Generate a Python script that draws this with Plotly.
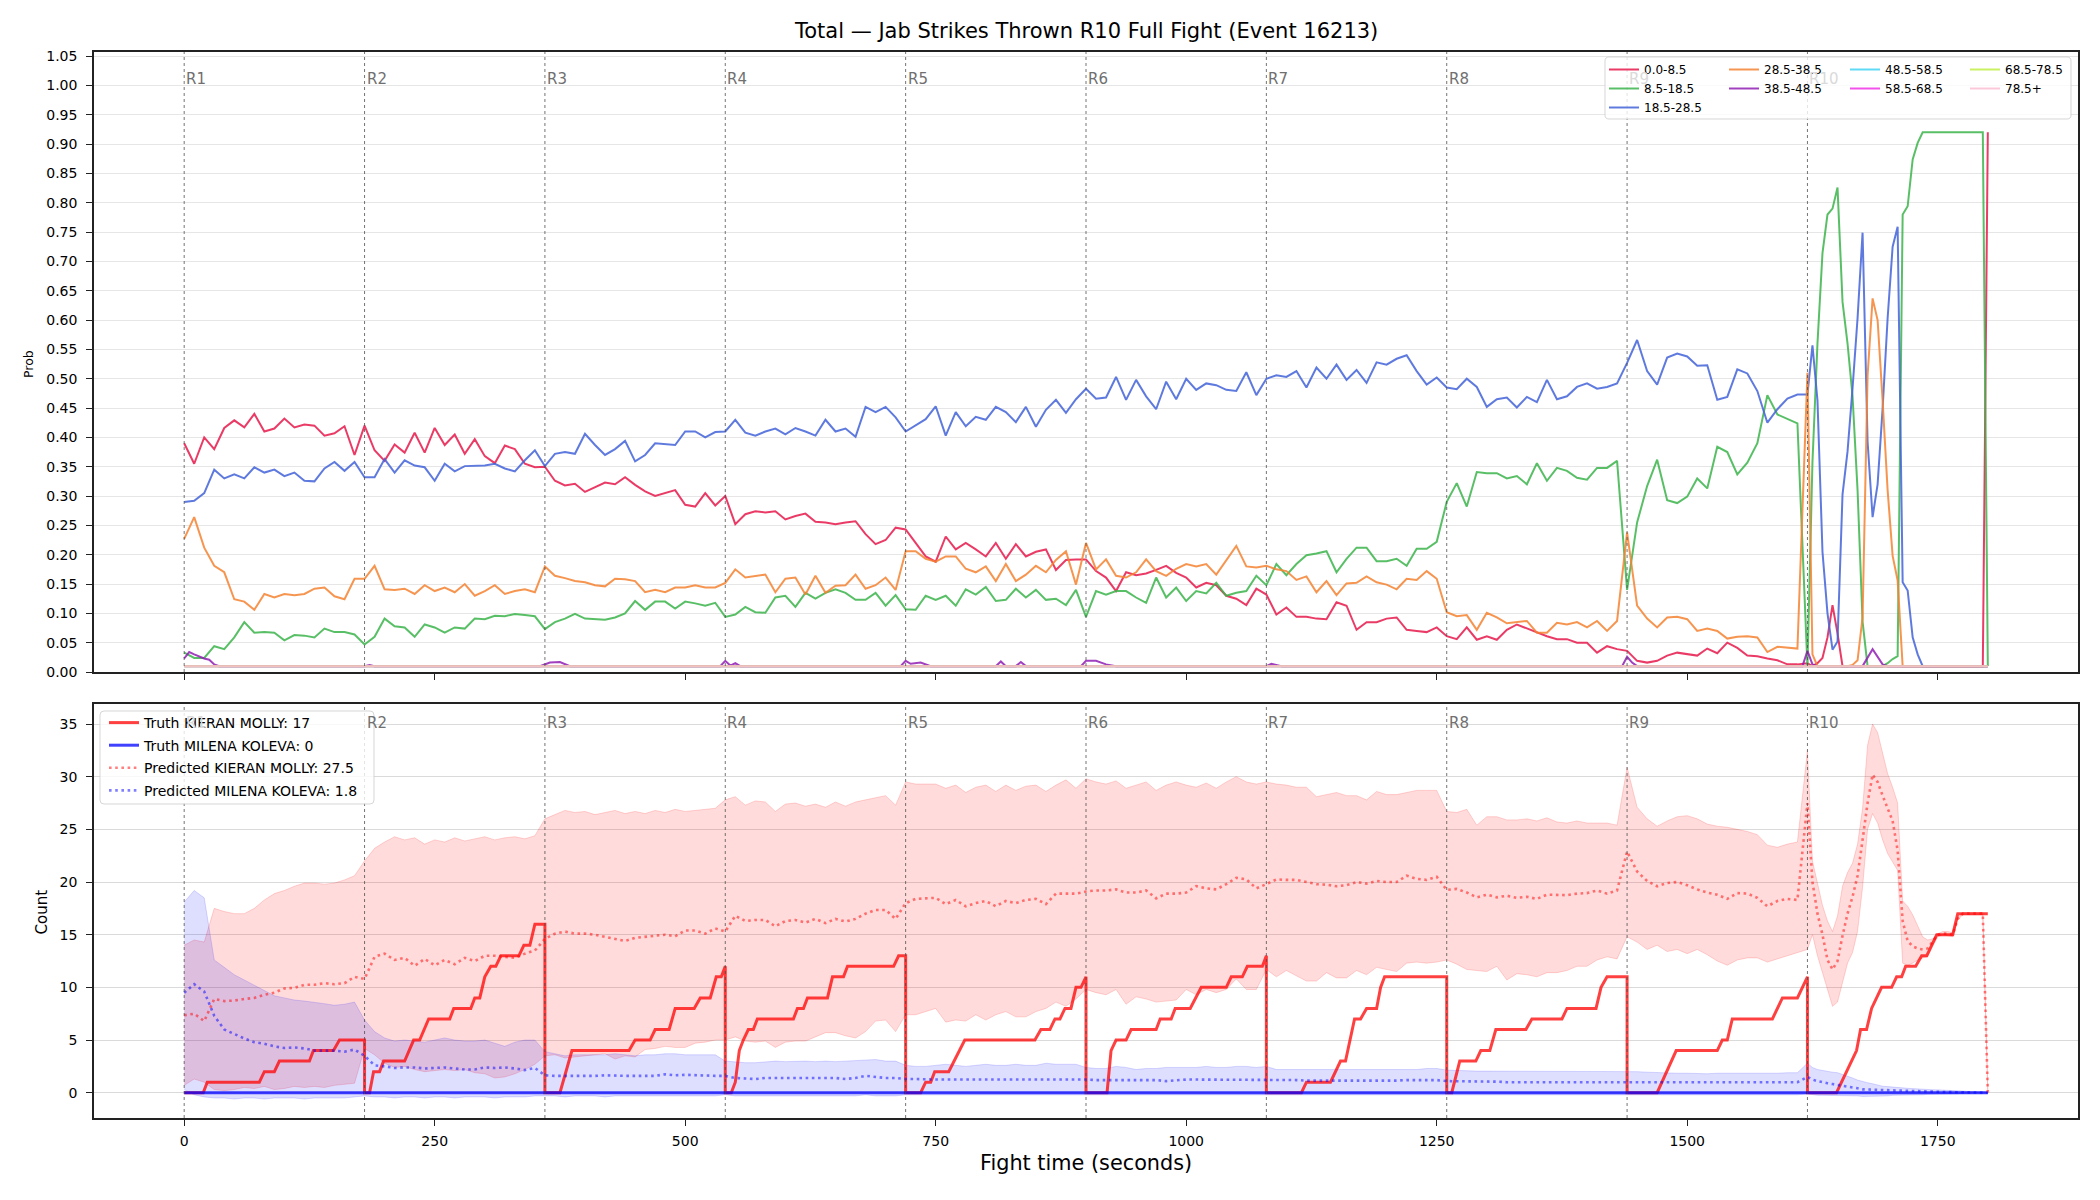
import plotly.graph_objects as go

FONT = "DejaVu Sans"

# ---------------------------------------------------------------- data
# sample times (s): every 10 s in rounds 1-9, every 5 s in round 10
times = list(range(0, 1620, 10)) + list(range(1620, 1805, 5))

round_starts = [0, 180, 360, 540, 720, 900, 1080, 1260, 1440, 1620]
round_names = ["R1", "R2", "R3", "R4", "R5", "R6", "R7", "R8", "R9", "R10"]
x_ticks = [0, 250, 500, 750, 1000, 1250, 1500, 1750]

bin_names = ["0.0-8.5", "8.5-18.5", "18.5-28.5", "28.5-38.5", "38.5-48.5",
             "48.5-58.5", "58.5-68.5", "68.5-78.5", "78.5+"]

prob_0_8 = [
    [.39, .355, .40, .38, .416, .429, .417, .44, .41, .415, .432, .417, .422, .42, .403, .407, .419, .37],
    [.42, .378, .36, .388, .374, .408, .374, .416, .387, .405, .372, .397, .368, .356, .386, .38, .355, .349],
    [.35, .326, .318, .321, .307, .315, .323, .32, .332, .319, .308, .30, .305, .31, .285, .282, .305, .284],
    [.30, .252, .269, .274, .272, .274, .26, .266, .27, .256, .255, .252, .255, .257, .235, .218, .225, .246],
    [.243, .22, .197, .188, .231, .209, .22, .209, .197, .22, .193, .218, .197, .205, .209, .174, .191, .192],
    [.192, .172, .161, .138, .17, .165, .168, .174, .181, .169, .161, .144, .152, .148, .13, .125, .114, .142],
    [.132, .098, .11, .094, .094, .091, .09, .119, .113, .072, .085, .085, .091, .093, .072, .07, .068, .076],
    [.061, .056, .076, .055, .061, .055, .072, .081, .074, .067, .061, .056, .056, .05, .05, .033, .044, .039],
    [.036, .019, .016, .019, .028, .033, .03, .028, .04, .032, .05, .041, .028, .027, .023, .02, .013, .013],
    [.015, .01, .015, .024, .059, .114, .066, .01,
     .01, .01, .01, .01, .01, .01, .01, .01, .01, .01, .01, .01, .01, .01,
     .01, .01, .01, .01, .01, .01, .01, .01, .01, .01, .01, .01, .01, .01, .92],
]
prob_8_18 = [
    [.033, .024, .024, .044, .039, .059, .085, .067, .068, .067, .054, .063, .062, .059, .074, .068, .068, .064],
    [.047, .06, .091, .078, .076, .06, .081, .076, .067, .076, .074, .091, .09, .096, .095, .099, .097, .095],
    [.073, .085, .091, .099, .091, .09, .089, .093, .10, .121, .106, .12, .12, .108, .12, .117, .113, .118],
    [.094, .098, .111, .102, .101, .127, .13, .111, .135, .125, .135, .141, .135, .123, .123, .135, .113, .131],
    [.107, .106, .13, .123, .13, .113, .141, .132, .145, .121, .123, .142, .127, .14, .123, .125, .114, .14],
    [.094, .138, .132, .138, .138, .127, .118, .161, .127, .144, .121, .138, .134, .152, .13, .135, .138, .164],
    [.148, .184, .165, .184, .199, .202, .206, .17, .193, .212, .212, .189, .189, .193, .181, .21, .21, .222],
    [.29, .322, .282, .341, .339, .339, .33, .334, .32, .356, .326, .348, .343, .331, .328, .348, .348, .36],
    [.14, .255, .317, .362, .293, .288, .299, .33, .313, .384, .375, .337, .357, .39, .472, .439, .432, .424],
    [.01, .358, .56, .714, .78, .79, .826, .631, .56, .47, .31, .086, .01, .01, .01, .01, .015, .022, .027,
     .78, .794, .874, .902, .92,
     .92, .92, .92, .92, .92, .92, .92, .92, .92, .92, .92, .92, .01],
]
prob_18_28 = [
    [.29, .292, .305, .345, .33, .337, .33, .349, .34, .345, .334, .34, .326, .325, .347, .358, .343, .358],
    [.332, .332, .363, .34, .361, .352, .349, .326, .355, .342, .351, .351, .352, .355, .347, .342, .361, .378],
    [.351, .372, .375, .372, .406, .387, .37, .38, .394, .359, .37, .39, .389, .387, .41, .41, .40, .409],
    [.41, .43, .408, .403, .41, .415, .405, .416, .41, .403, .43, .41, .415, .401, .452, .443, .452, .434],
    [.41, .42, .431, .453, .403, .443, .419, .435, .43, .452, .443, .426, .452, .418, .447, .464, .442, .465],
    [.483, .466, .468, .503, .464, .498, .47, .448, .495, .465, .50, .481, .492, .489, .481, .479, .511, .472],
    [.50, .506, .503, .513, .485, .519, .50, .524, .498, .515, .493, .528, .524, .534, .54, .513, .49, .502],
    [.485, .482, .50, .486, .452, .465, .468, .451, .469, .46, .498, .465, .47, .486, .492, .483, .486, .492],
    [.527, .566, .513, .49, .536, .543, .538, .522, .523, .464, .469, .516, .509, .479, .425, .448, .466, .473],
    [.473, .557, .463, .205, .10, .038, .052, .303, .376, .484, .603, .749, .393, .264, .32, .449, .603, .725,
     .759, .153, .139, .059, .03, .01,
     .01, .01, .01, .01, .01, .01, .01, .01, .01, .01, .01, .01, .01],
]
prob_28_38 = [
    [.227, .264, .212, .181, .17, .124, .12, .106, .133, .127, .133, .131, .133, .142, .144, .129, .124, .159],
    [.159, .181, .141, .14, .142, .133, .148, .138, .144, .136, .15, .13, .138, .148, .133, .138, .141, .136],
    [.18, .164, .16, .155, .153, .148, .146, .159, .158, .155, .136, .14, .136, .144, .144, .148, .144, .144],
    [.152, .175, .161, .164, .166, .136, .159, .161, .132, .164, .135, .147, .148, .166, .142, .148, .161, .14],
    [.206, .206, .193, .188, .197, .197, .176, .17, .18, .155, .184, .155, .166, .181, .17, .191, .206, .149],
    [.22, .175, .192, .164, .161, .17, .192, .172, .164, .176, .184, .18, .184, .166, .191, .215, .18, .178],
    [.181, .175, .172, .157, .163, .136, .155, .131, .151, .152, .163, .153, .149, .141, .159, .157, .172, .159],
    [.102, .095, .097, .072, .101, .093, .083, .085, .087, .067, .067, .084, .081, .085, .076, .087, .07, .087],
    [.238, .113, .091, .076, .093, .094, .09, .07, .074, .07, .057, .06, .061, .059, .034, .043, .041, .04],
    [.51, .03, .01, .01, .01, .01, .01, .01, .01, .012, .02, .093, .505, .637, .60, .463, .31, .198, .156, .01,
     .01, .01, .01, .01, .01, .01, .01, .01, .01, .01, .01, .01, .01, .01, .01, .01, .01],
]
# 38.5-48.5 stays near the floor; its own breakpoints
prob_38_48_t = [0, 5, 10, 15, 20, 25, 30, 35, 180, 185, 190, 355, 360, 365, 375, 385,
                535, 540, 545, 550, 555, 715, 720, 725, 735, 745, 810, 815, 820, 830, 835, 840,
                895, 900, 910, 920, 930, 1080, 1085, 1095, 1435, 1440, 1445, 1450,
                1615, 1620, 1625, 1630, 1675, 1685, 1695, 1700, 1800]
prob_38_48 = [.023, .034, .03, .026, .023, .021, .013, .01, .01, .012, .01, .01, .013, .016, .017, .01,
              .01, .019, .011, .015, .01, .01, .019, .014, .016, .01, .01, .018, .01, .01, .017, .01,
              .01, .019, .019, .013, .01, .01, .014, .01, .01, .026, .016, .01,
              .01, .036, .013, .01, .01, .039, .013, .01, .01]
# upper bins are flat at the floor for the whole fight
floor_t = [0, 1800]
prob_48_58 = [0.01, 0.01]
prob_58_68 = [0.01, 0.01]
prob_68_78 = [0.01, 0.01]
prob_78_up = [0.01, 0.01]

# ---- cumulative counts
truth_kieran_t = [
    [0, 19, 23, 75, 80, 90, 95, 125, 129, 149, 155, 180],
    [180, 185, 189, 195, 199, 220, 229, 235, 244, 265, 269, 286, 290, 295, 300, 306, 311, 316, 334, 339, 345, 350, 360],
    [360, 375, 387, 444, 450, 465, 470, 484, 490, 509, 515, 525, 531, 536, 540],
    [540, 546, 550, 554, 558, 563, 568, 572, 608, 612, 618, 622, 642, 647, 658, 662, 708, 713, 720],
    [720, 735, 740, 745, 749, 763, 779, 849, 855, 864, 869, 874, 879, 885, 890, 895, 900],
    [900, 921, 925, 930, 940, 945, 970, 974, 985, 989, 1004, 1015, 1040, 1045, 1056, 1061, 1076, 1080],
    [1080, 1115, 1120, 1144, 1154, 1159, 1168, 1174, 1180, 1190, 1194, 1198, 1260],
    [1260, 1265, 1273, 1289, 1294, 1303, 1309, 1339, 1345, 1375, 1380, 1409, 1414, 1420, 1440],
    [1440, 1470, 1489, 1530, 1535, 1540, 1545, 1585, 1595, 1610, 1620],
    [1620, 1649, 1669, 1673, 1679, 1684, 1694, 1704, 1709, 1714, 1718, 1728, 1734, 1739, 1749, 1765, 1770, 1800],
]
truth_kieran = [
    [0, 0, 1, 1, 2, 2, 3, 3, 4, 4, 5, 5],
    [0, 0, 2, 2, 3, 3, 5, 5, 7, 7, 8, 8, 9, 9, 11, 12, 12, 13, 13, 14, 14, 16, 16],
    [0, 0, 4, 4, 5, 5, 6, 6, 8, 8, 9, 9, 11, 11, 12],
    [0, 0, 1, 4, 5, 6, 6, 7, 7, 8, 8, 9, 9, 11, 11, 12, 12, 13, 13],
    [0, 0, 1, 1, 2, 2, 5, 5, 6, 6, 7, 7, 8, 8, 10, 10, 11],
    [0, 0, 4, 5, 5, 6, 6, 7, 7, 8, 8, 10, 10, 11, 11, 12, 12, 13],
    [0, 0, 1, 1, 3, 3, 7, 7, 8, 8, 10, 11, 11],
    [0, 0, 3, 3, 4, 4, 6, 6, 7, 7, 8, 8, 10, 11, 11],
    [0, 0, 4, 4, 5, 5, 7, 7, 9, 9, 11],
    [0, 0, 4, 6, 6, 8, 10, 10, 11, 11, 12, 12, 13, 13, 15, 15, 17, 17],
]
truth_milena_t = [0, 1800]
truth_milena = [0, 0]

pred_kieran = [
    [7.35, 7.5, 6.8, 8.9, 8.7, 8.75, 8.9, 9.0, 9.3, 9.5, 9.9, 9.95, 10.25, 10.25, 10.4, 10.3, 10.4, 11.0],
    [10.8, 12.9, 13.2, 12.6, 12.8, 12.05, 12.7, 12.1, 12.6, 12.2, 12.8, 12.5, 13.0, 13.0, 12.9, 12.8, 13.2, 13.5],
    [14.6, 15.1, 15.3, 15.1, 15.1, 15.0, 14.8, 14.6, 14.4, 14.7, 14.8, 14.9, 15.0, 14.85, 15.4, 15.4, 15.1, 15.6],
    [15.3, 16.8, 16.3, 16.4, 16.4, 15.8, 16.3, 16.4, 16.15, 16.5, 16.1, 16.5, 16.25, 16.5, 17.0, 17.35, 17.35, 16.5],
    [18.0, 18.4, 18.45, 18.5, 17.9, 18.3, 17.7, 18.0, 18.2, 17.7, 18.2, 18.0, 18.3, 18.4, 17.9, 18.9, 18.9, 18.9],
    [19.1, 19.2, 19.2, 19.3, 19.0, 19.0, 19.2, 18.45, 18.9, 18.9, 19.0, 19.6, 19.4, 19.3, 19.8, 20.4, 20.25, 19.4],
    [19.8, 20.25, 20.2, 20.2, 20.0, 19.8, 19.75, 19.6, 19.7, 20.0, 19.85, 20.1, 20.0, 20.0, 20.6, 20.3, 20.2, 20.5],
    [19.25, 19.35, 19.0, 18.55, 18.8, 18.55, 18.7, 18.5, 18.6, 18.4, 18.8, 18.75, 18.75, 18.9, 18.95, 19.2, 18.9, 19.2],
    [22.9, 21.0, 20.1, 19.6, 19.9, 20.0, 19.7, 19.3, 19.0, 18.8, 18.4, 18.95, 18.9, 18.5, 17.7, 18.2, 18.4, 18.3],
    [27.5, 20.0, 17.0, 15.0, 12.6, 11.7, 12.5, 14.9, 17.0, 18.6, 20.6, 24.0, 27.5, 30.2, 29.5, 28.2, 27.0, 25.8,
     23.0, 16.3, 14.4, 13.9, 13.7, 13.6, 13.7, 14.3, 15.0, 15.1, 15.1, 15.0, 16.5, 17.0, 17.0, 17.0, 17.0, 17.0, 0.0],
]
high_kieran = [
    [14.0, 14.5, 14.3, 17.5, 17.2, 17.0, 17.0, 17.5, 18.3, 18.9, 19.2, 19.6, 19.9, 19.9, 19.8, 19.9, 20.2, 20.6],
    [22.0, 23.2, 23.8, 24.3, 24.0, 24.2, 23.6, 24.0, 23.8, 24.2, 23.9, 24.1, 24.3, 24.0, 24.2, 24.3, 24.1, 24.4],
    [26.0, 26.4, 26.8, 26.6, 26.7, 26.4, 26.6, 26.8, 26.5, 26.7, 26.5, 26.8, 26.6, 26.9, 26.7, 26.8, 26.9, 27.0],
    [27.8, 28.1, 27.3, 27.7, 27.6, 26.7, 27.4, 27.5, 27.2, 27.4, 27.1, 27.6, 27.2, 27.6, 27.8, 28.0, 28.2, 27.3],
    [29.5, 29.3, 29.3, 29.3, 28.9, 29.2, 28.5, 29.0, 29.2, 28.6, 29.2, 28.7, 29.1, 29.2, 28.6, 29.2, 29.7, 28.9],
    [29.8, 29.5, 29.3, 29.6, 28.9, 29.2, 29.5, 28.7, 29.2, 29.5, 29.2, 29.0, 29.4, 28.9, 29.5, 30.0, 29.5, 29.3],
    [29.5, 29.3, 29.2, 29.0, 29.0, 28.1, 28.3, 28.5, 28.2, 28.2, 27.8, 28.6, 28.3, 28.3, 28.5, 28.7, 28.7, 28.7],
    [26.7, 26.6, 26.9, 25.4, 26.2, 26.2, 25.9, 25.9, 26.0, 25.8, 26.1, 25.7, 25.6, 25.8, 25.6, 25.6, 25.6, 25.4],
    [30.9, 27.1, 26.0, 25.3, 25.8, 26.2, 26.3, 26.0, 25.5, 25.3, 25.2, 25.0, 24.8, 24.5, 23.5, 23.3, 23.6, 23.8],
    [32.5, 22.0, 19.8, 17.8, 16.3, 15.3, 16.8, 19.6, 20.9, 21.8, 23.6, 27.0, 33.0, 35.0, 34.2, 32.3, 30.3, 29.0,
     27.5, 18.2, 17.7, 16.9, 15.9, 14.8, 14.5, 14.6, 15.1, 15.3, 15.3, 15.2, 16.6, 17.1, 17.1, 17.1, 17.1, 17.1, 0.1],
]
low_kieran = [
    [0.7, 1.3, 1.0, 0.3, 0.2, 0.3, 0.5, 0.4, 0.6, 0.3, 0.4, 0.6, 0.5, 0.6, 0.5, 0.7, 0.8, 0.9],
    [4.2, 3.6, 2.8, 2.4, 2.5, 2.2, 2.0, 2.1, 2.2, 2.1, 2.2, 1.9, 1.8, 1.4, 1.5, 1.8, 2.2, 2.7],
    [3.5, 3.6, 3.3, 3.4, 3.5, 3.6, 3.7, 3.2, 3.5, 3.4, 4.1, 4.2, 4.4, 4.3, 4.3, 4.7, 4.8, 5.0],
    [5.0, 5.3, 4.9, 4.8, 4.9, 4.3, 4.8, 4.9, 4.9, 5.3, 5.7, 5.7, 5.4, 5.2, 5.8, 6.8, 6.9, 5.8],
    [7.4, 7.4, 7.7, 8.0, 6.7, 6.9, 6.8, 7.4, 6.9, 7.4, 7.7, 7.2, 7.2, 7.7, 8.0, 8.6, 8.2, 8.9],
    [9.8, 9.5, 9.3, 9.8, 8.4, 9.1, 8.9, 8.6, 8.7, 8.8, 9.8, 9.3, 9.8, 9.5, 9.8, 10.8, 9.8, 9.8],
    [11.7, 11.0, 11.6, 11.1, 10.6, 10.6, 11.4, 10.9, 10.9, 11.6, 11.2, 11.9, 11.7, 11.5, 12.3, 12.4, 12.3, 12.4],
    [12.6, 12.2, 11.7, 11.6, 11.5, 12.0, 10.7, 11.3, 11.2, 11.0, 11.4, 11.4, 11.6, 12.0, 12.0, 12.6, 12.9, 12.7],
    [14.8, 14.3, 13.6, 14.0, 13.4, 13.6, 13.2, 13.6, 13.1, 12.5, 12.1, 12.6, 12.8, 12.8, 12.4, 12.7, 13.0, 13.3],
    [13.6, 15.0, 13.0, 11.4, 9.8, 8.2, 8.6, 10.5, 12.3, 13.3, 15.3, 19.5, 25.0, 26.5, 25.6, 24.0, 22.7, 21.9,
     21.1, 12.3, 12.1, 12.3, 12.6, 12.8, 12.9, 13.9, 14.8, 15.0, 14.9, 14.8, 16.4, 16.9, 16.9, 16.9, 16.9, 16.9, 0.0],
]
pred_milena = [
    [9.5, 10.3, 9.6, 7.3, 6.0, 5.55, 5.15, 4.8, 4.65, 4.4, 4.25, 4.3, 4.2, 4.0, 4.0, 4.0, 3.9, 4.1],
    [3.5, 2.6, 2.5, 2.35, 2.4, 2.4, 2.3, 2.35, 2.4, 2.3, 2.2, 2.2, 2.4, 2.35, 2.4, 2.3, 2.15, 2.35],
    [1.65, 1.6, 1.6, 1.55, 1.6, 1.6, 1.65, 1.6, 1.6, 1.6, 1.6, 1.6, 1.75, 1.65, 1.7, 1.65, 1.65, 1.6],
    [1.6, 1.4, 1.35, 1.3, 1.4, 1.4, 1.35, 1.4, 1.4, 1.35, 1.4, 1.4, 1.3, 1.4, 1.6, 1.5, 1.4, 1.4],
    [1.3, 1.3, 1.25, 1.25, 1.25, 1.25, 1.25, 1.25, 1.25, 1.25, 1.25, 1.25, 1.3, 1.3, 1.3, 1.3, 1.3, 1.3],
    [1.25, 1.2, 1.2, 1.2, 1.2, 1.2, 1.2, 1.2, 1.1, 1.2, 1.25, 1.25, 1.25, 1.25, 1.25, 1.25, 1.25, 1.25],
    [1.25, 1.2, 1.2, 1.2, 1.15, 1.15, 1.1, 1.1, 1.15, 1.15, 1.15, 1.15, 1.15, 1.15, 1.2, 1.2, 1.2, 1.2],
    [1.1, 1.1, 1.05, 1.05, 1.05, 1.05, 1.0, 1.0, 1.0, 1.0, 1.0, 1.0, 1.0, 1.0, 1.0, 1.0, 1.0, 1.0],
    [1.0, 0.95, 0.95, 0.95, 0.95, 0.95, 0.95, 0.95, 0.95, 0.95, 0.95, 0.95, 0.95, 0.95, 0.95, 0.95, 0.95, 1.0],
    [1.5, 1.25, 1.1, 0.97, 0.9, 0.82, 0.75, 0.67, 0.6, 0.52, 0.42, 0.32, 0.3, 0.28, 0.26, 0.24, 0.22, 0.21,
     0.2, 0.18, 0.17, 0.15, 0.13, 0.12, 0.1, 0.09, 0.08, 0.07, 0.06, 0.05, 0.04, 0.03, 0.02, 0.02, 0.01, 0.01, 0.0],
]
high_milena = [
    [18.1, 19.2, 18.5, 12.6, 11.9, 11.2, 10.7, 10.2, 9.7, 9.2, 9.0, 8.8, 8.7, 8.6, 8.45, 8.3, 8.4, 8.6],
    [6.9, 5.8, 5.2, 4.9, 5.0, 4.9, 4.8, 5.0, 5.2, 5.0, 4.9, 4.9, 5.0, 4.7, 4.4, 4.8, 5.0, 5.0],
    [3.9, 3.7, 3.5, 3.6, 3.6, 3.6, 3.6, 3.7, 3.6, 3.5, 3.6, 3.6, 3.7, 3.7, 3.6, 3.6, 3.6, 3.6],
    [3.0, 2.9, 2.85, 2.85, 2.9, 3.0, 2.95, 3.0, 3.0, 2.95, 3.0, 2.95, 3.0, 3.0, 3.1, 3.15, 3.0, 3.0],
    [2.6, 2.5, 2.5, 2.6, 2.7, 2.6, 2.5, 2.6, 2.7, 2.6, 2.6, 2.7, 2.6, 2.6, 2.8, 2.7, 2.7, 2.7],
    [2.4, 2.3, 2.3, 2.5, 2.4, 2.2, 2.3, 2.3, 2.4, 2.4, 2.4, 2.4, 2.5, 2.4, 2.4, 2.5, 2.5, 2.4],
    [2.5, 2.2, 2.2, 2.2, 2.2, 2.2, 2.15, 2.15, 2.2, 2.2, 2.2, 2.2, 2.2, 2.2, 2.2, 2.2, 2.3, 2.3],
    [2.15, 2.1, 2.05, 2.05, 2.05, 2.05, 2.05, 2.05, 2.05, 2.05, 2.05, 2.05, 2.05, 2.05, 2.05, 2.05, 2.05, 2.05],
    [2.05, 2.0, 1.95, 1.9, 1.9, 1.85, 1.85, 1.8, 1.8, 1.85, 1.85, 1.85, 1.8, 1.85, 1.85, 1.85, 1.9, 1.9],
    [2.8, 2.4, 2.2, 2.1, 2.05, 1.95, 1.9, 1.75, 1.6, 1.4, 1.2, 1.05, 0.95, 0.85, 0.7, 0.62, 0.58, 0.52,
     0.5, 0.46, 0.42, 0.38, 0.35, 0.32, 0.3, 0.28, 0.27, 0.26, 0.25, 0.22, 0.19, 0.16, 0.12, 0.1, 0.08, 0.06, 0.05],
]
low_milena = [
    [0.3, -0.2, -0.4, -0.5, -0.5, -0.6, -0.5, -0.5, -0.6, -0.5, -0.5, -0.5, -0.6, -0.5, -0.5, -0.5, -0.5, -0.4],
    [-0.3, -0.4, -0.4, -0.5, -0.4, -0.4, -0.5, -0.4, -0.4, -0.5, -0.4, -0.4, -0.4, -0.5, -0.4, -0.4, -0.4, -0.3],
    [-0.3, -0.3, -0.4, -0.3, -0.3, -0.3, -0.4, -0.3, -0.3, -0.3, -0.3, -0.3, -0.3, -0.3, -0.3, -0.3, -0.3, -0.3],
    [-0.2, -0.3, -0.3, -0.3, -0.3, -0.3, -0.3, -0.3, -0.3, -0.3, -0.3, -0.3, -0.3, -0.3, -0.2, -0.3, -0.3, -0.3],
    [-0.2, -0.2, -0.25, -0.25, -0.25, -0.2, -0.25, -0.25, -0.2, -0.25, -0.25, -0.2, -0.25, -0.25, -0.2, -0.25, -0.2, -0.2],
    [-0.2, -0.25, -0.25, -0.2, -0.25, -0.25, -0.25, -0.2, -0.25, -0.25, -0.2, -0.25, -0.25, -0.2, -0.25, -0.25, -0.2, -0.2],
    [-0.2, -0.2, -0.25, -0.2, -0.2, -0.25, -0.2, -0.2, -0.2, -0.25, -0.2, -0.2, -0.2, -0.2, -0.25, -0.2, -0.2, -0.2],
    [-0.2, -0.2, -0.2, -0.25, -0.2, -0.2, -0.2, -0.2, -0.2, -0.2, -0.25, -0.2, -0.2, -0.2, -0.2, -0.2, -0.2, -0.2],
    [-0.2, -0.2, -0.25, -0.2, -0.2, -0.2, -0.2, -0.2, -0.25, -0.2, -0.2, -0.2, -0.2, -0.2, -0.2, -0.2, -0.2, -0.2],
    [-0.1, -0.2, -0.25, -0.25, -0.25, -0.3, -0.3, -0.3, -0.3, -0.3, -0.3, -0.35, -0.35, -0.35, -0.3, -0.3, -0.3, -0.25,
     -0.25, -0.25, -0.2, -0.2, -0.2, -0.2, -0.15, -0.15, -0.15, -0.1, -0.1, -0.1, -0.1, -0.05, -0.05, -0.05, -0.05, -0.02, 0.0],
]


def joined(rounds):
    out = []
    for r in rounds:
        out.extend(r)
    return out


def on_grid(rounds, name):
    vals = joined(rounds)
    if len(vals) != len(times):
        raise ValueError(f"{name}: {len(vals)} values for {len(times)} times")
    return vals


# ---------------------------------------------------------------- geometry helpers
W, H = 2100, 1200
ML, MR, MT, MB = 94, 22, 52, 82
PW, PH = W - ML - MR, H - MT - MB


def fx(px):
    return (px - ML) / PW


def fy(py):
    return (H - MB - py) / PH


def rounded_box(x0, y0, x1, y1, r=4):
    def p(x, y):
        return f"{fx(x):.6f},{fy(y):.6f}"
    return (f"M{p(x0 + r, y0)} L{p(x1 - r, y0)} Q{p(x1, y0)} {p(x1, y0 + r)} "
            f"L{p(x1, y1 - r)} Q{p(x1, y1)} {p(x1 - r, y1)} L{p(x0 + r, y1)} "
            f"Q{p(x0, y1)} {p(x0, y1 - r)} L{p(x0, y0 + r)} Q{p(x0, y0)} {p(x0 + r, y0)} Z")


# ---------------------------------------------------------------- figure
fig = go.Figure()

bin_colors = ["rgba(230,25,75,0.85)", "rgba(60,180,75,0.85)", "rgba(67,99,216,0.85)",
              "rgba(245,130,49,0.85)", "rgba(145,30,180,0.85)", "rgba(66,212,244,0.85)",
              "rgba(240,50,230,0.85)", "rgba(191,239,69,0.85)", "rgba(250,190,212,0.85)"]
bin_legends = ["legend", "legend", "legend", "legend2", "legend2",
               "legend3", "legend3", "legend4", "legend4"]
bin_x = [times, times, times, times, prob_38_48_t, floor_t, floor_t, floor_t, floor_t]
bin_y = [on_grid(prob_0_8, "0-8"), on_grid(prob_8_18, "8-18"), on_grid(prob_18_28, "18-28"),
         on_grid(prob_28_38, "28-38"), prob_38_48, prob_48_58, prob_58_68, prob_68_78, prob_78_up]

for name, col, lg, xs, ys in zip(bin_names, bin_colors, bin_legends, bin_x, bin_y):
    fig.add_trace(go.Scatter(x=xs, y=ys, mode="lines", name=name, legend=lg,
                             line=dict(color=col, width=2), xaxis="x", yaxis="y",
                             hoverinfo="skip"))

# bottom panel
lo_k, hi_k = on_grid(low_kieran, "lo_k"), on_grid(high_kieran, "hi_k")
lo_m, hi_m = on_grid(low_milena, "lo_m"), on_grid(high_milena, "hi_m")
pk, pm = on_grid(pred_kieran, "pk"), on_grid(pred_milena, "pm")
tk_t, tk = joined(truth_kieran_t), joined(truth_kieran)

band_k_line = dict(color="rgba(255,0,0,0.16)", width=1)
band_m_line = dict(color="rgba(0,0,255,0.14)", width=1)
fig.add_trace(go.Scatter(x=times, y=lo_k, mode="lines", line=band_k_line, showlegend=False,
                         xaxis="x2", yaxis="y2", hoverinfo="skip"))
fig.add_trace(go.Scatter(x=times, y=hi_k, mode="lines", line=band_k_line, showlegend=False,
                         fill="tonexty", fillcolor="rgba(255,0,0,0.14)",
                         xaxis="x2", yaxis="y2", hoverinfo="skip"))
fig.add_trace(go.Scatter(x=times, y=lo_m, mode="lines", line=band_m_line, showlegend=False,
                         xaxis="x2", yaxis="y2", hoverinfo="skip"))
fig.add_trace(go.Scatter(x=times, y=hi_m, mode="lines", line=band_m_line, showlegend=False,
                         fill="tonexty", fillcolor="rgba(0,0,255,0.13)",
                         xaxis="x2", yaxis="y2", hoverinfo="skip"))

fig.add_trace(go.Scatter(x=tk_t, y=tk, mode="lines", name="Truth KIERAN MOLLY: 17",
                         line=dict(color="rgba(255,0,0,0.75)", width=3), legend="legend5",
                         legendgroup="a", xaxis="x2", yaxis="y2", hoverinfo="skip"))
fig.add_trace(go.Scatter(x=truth_milena_t, y=truth_milena, mode="lines",
                         name="Truth MILENA KOLEVA: 0",
                         line=dict(color="rgba(0,0,255,0.75)", width=3), legend="legend5",
                         legendgroup="b", xaxis="x2", yaxis="y2", hoverinfo="skip"))
fig.add_trace(go.Scatter(x=times, y=pk, mode="lines", name="Predicted KIERAN MOLLY: 27.5",
                         line=dict(color="rgba(255,0,0,0.5)", width=2.6, dash="2.6px,3.6px"),
                         legend="legend5", legendgroup="c", xaxis="x2", yaxis="y2",
                         hoverinfo="skip"))
fig.add_trace(go.Scatter(x=times, y=pm, mode="lines", name="Predicted MILENA KOLEVA: 1.8",
                         line=dict(color="rgba(0,0,255,0.5)", width=2.6, dash="2.6px,3.6px"),
                         legend="legend5", legendgroup="d", xaxis="x2", yaxis="y2",
                         hoverinfo="skip"))

# ---------------------------------------------------------------- axes
axis_common = dict(showline=True, linecolor="#222", linewidth=1.5, mirror=True,
                   ticks="outside", ticklen=6, tickwidth=1.3, tickcolor="#222",
                   tickfont=dict(family=FONT, size=14, color="#000"), zeroline=False)
fig.update_layout(
    xaxis=dict(domain=[0, 1], anchor="y", range=[-90, 1890], tickvals=x_ticks,
               showticklabels=False, showgrid=False, **axis_common),
    xaxis2=dict(domain=[0, 1], anchor="y2", range=[-90, 1890], tickvals=x_ticks,
                showgrid=False, ticklabelstandoff=3, **axis_common),
    yaxis=dict(domain=[fy(672), 1.0], anchor="x", range=[0, 1.057], tick0=0, dtick=0.05,
               tickformat=".2f", showgrid=True, gridcolor="#e6e6e6", gridwidth=1,
               ticklabelstandoff=6, **axis_common),
    yaxis2=dict(domain=[0, fy(704)], anchor="x2", range=[-2.4, 36.9], tick0=0, dtick=5,
                showgrid=True, gridcolor="#dadada", gridwidth=1,
                ticklabelstandoff=6, **axis_common),
)

# ---------------------------------------------------------------- legends
leg_common = dict(bgcolor="rgba(0,0,0,0)", borderwidth=0, orientation="v",
                  xanchor="left", yanchor="top", itemwidth=30, tracegroupgap=0,
                  traceorder="normal",
                  font=dict(family=FONT, size=12, color="#000"))
fig.update_layout(
    legend=dict(x=fx(1604), y=fy(55), **leg_common),
    legend2=dict(x=fx(1724), y=fy(55), **leg_common),
    legend3=dict(x=fx(1845), y=fy(55), **leg_common),
    legend4=dict(x=fx(1965), y=fy(55), **leg_common),
    legend5=dict(x=fx(104), y=fy(707), bgcolor="rgba(0,0,0,0)", borderwidth=0,
                 orientation="v", xanchor="left", yanchor="top", itemwidth=30,
                 tracegroupgap=1.4, traceorder="grouped",
                 font=dict(family=FONT, size=14, color="#000")),
)

# ---------------------------------------------------------------- shapes
shapes = []
for t0 in round_starts:
    for xr, yr in (("x", "y domain"), ("x2", "y2 domain")):
        shapes.append(dict(type="line", xref=xr, yref=yr, x0=t0, x1=t0, y0=0, y1=1,
                           line=dict(color="rgba(70,70,70,0.75)", width=1, dash="dot"),
                           layer="above"))
box_style = dict(type="path", xref="paper", yref="paper", layer="above",
                 fillcolor="rgba(255,255,255,0.8)",
                 line=dict(color="rgba(204,204,204,0.8)", width=1))
shapes.append(dict(path=rounded_box(1605, 57, 2071, 119), **box_style))
shapes.append(dict(path=rounded_box(100, 711, 374, 804), **box_style))
fig.update_layout(shapes=shapes)

# ---------------------------------------------------------------- annotations
ann = []
for t0, lab in zip(round_starts, round_names):
    top_col = "#dadada" if lab in ("R9", "R10") else "#707070"
    bot_col = "#dadada" if lab == "R1" else "#707070"
    ann.append(dict(x=t0, xref="x", y=0.957, yref="y domain", text=lab, showarrow=False,
                    xanchor="left", yanchor="middle",
                    font=dict(family=FONT, size=15, color=top_col)))
    ann.append(dict(x=t0, xref="x2", y=0.954, yref="y2 domain", text=lab, showarrow=False,
                    xanchor="left", yanchor="middle",
                    font=dict(family=FONT, size=15, color=bot_col)))
ann.append(dict(x=0.5, y=fy(31), xref="paper", yref="paper", showarrow=False,
                text="Total \u2014 Jab Strikes Thrown R10 Full Fight (Event 16213)",
                xanchor="center", yanchor="middle",
                font=dict(family=FONT, size=21, color="#000")))
ann.append(dict(x=0.5, y=fy(1163), xref="paper", yref="paper", showarrow=False,
                text="Fight time (seconds)", xanchor="center", yanchor="middle",
                font=dict(family=FONT, size=20.8, color="#000")))
ann.append(dict(x=fx(28), y=fy(364), xref="paper", yref="paper", showarrow=False,
                text="Prob", textangle=-90, xanchor="center", yanchor="middle",
                font=dict(family=FONT, size=12.5, color="#000")))
ann.append(dict(x=fx(41.5), y=fy(912), xref="paper", yref="paper", showarrow=False,
                text="Count", textangle=-90, xanchor="center", yanchor="middle",
                font=dict(family=FONT, size=15, color="#000")))

fig.update_layout(
    annotations=ann,
    width=W, height=H,
    margin=dict(l=ML, r=MR, t=MT, b=MB, pad=0),
    paper_bgcolor="white", plot_bgcolor="white",
    font=dict(family=FONT, size=14, color="#000"),
    showlegend=True,
)

fig.write_html("out.html")
